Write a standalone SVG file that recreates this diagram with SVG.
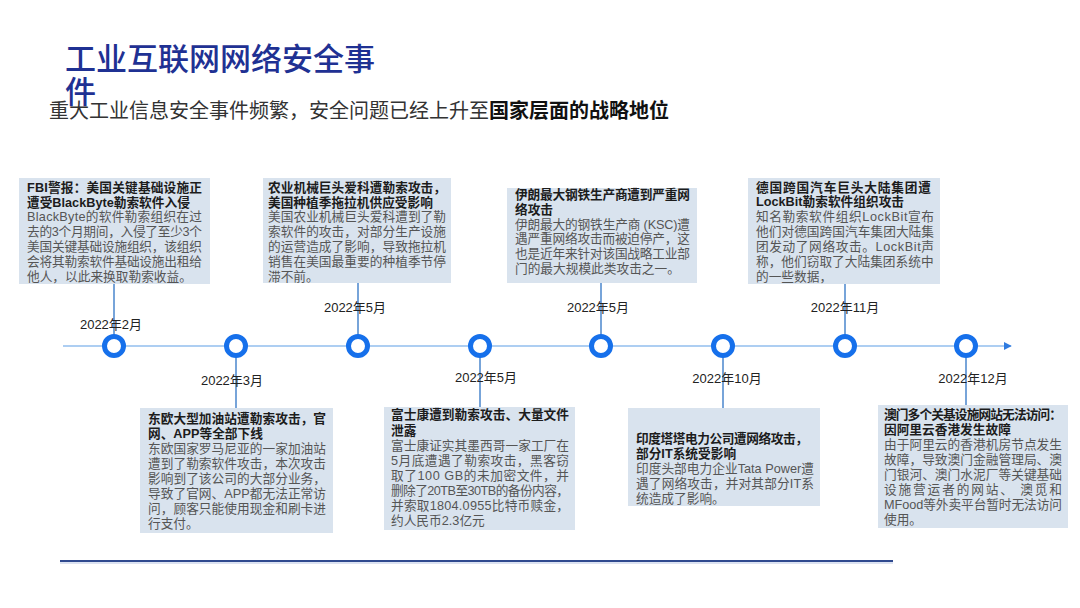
<svg xmlns="http://www.w3.org/2000/svg" width="1080" height="608" viewBox="0 0 1080 608">
<defs>
<style>
.box{fill:#d9e3ee}
.t{font-family:"Liberation Sans","Noto Sans CJK SC",sans-serif;font-size:12.7px;font-weight:bold;fill:#1c1c1c}
.b{font-family:"Liberation Sans","Noto Sans CJK SC",sans-serif;font-size:12.7px;fill:#555}
.d{font-family:"Liberation Sans","Noto Sans CJK SC",sans-serif;font-size:13px;fill:#222;text-anchor:middle}
.c{fill:#fff;stroke:#1670eb;stroke-width:5}
.conn{stroke:#4a86cc;stroke-width:1.5;fill:none}
</style>
<marker id="arr" viewBox="0 0 10 10" refX="9" refY="5" markerWidth="8" markerHeight="8" markerUnits="userSpaceOnUse" orient="auto">
<path d="M0,0 L10,5 L0,10 z" fill="#2f7be0"/>
</marker>
</defs>
<rect width="1080" height="608" fill="#fff"/>
<g id="title">
<text x="65" y="70" font-family="'Noto Sans CJK SC',sans-serif" font-size="31" font-weight="500" fill="#1f3193">工业互联网网络安全事</text>
<text x="65" y="103" font-family="'Noto Sans CJK SC',sans-serif" font-size="31" font-weight="500" fill="#1f3193">件</text>
<text x="49" y="118" font-family="'Noto Sans CJK SC',sans-serif" font-size="20" fill="#333">重大工业信息安全事件频繁，安全问题已经上升至<tspan font-weight="bold" fill="#111">国家层面的战略地位</tspan></text>
</g>
<g id="connectors">
<line x1="63" y1="346" x2="1011" y2="346" stroke="#5d9ee6" stroke-width="1.2" marker-end="url(#arr)"/>
<line class="conn" x1="114" y1="284" x2="114" y2="340"/>
<line class="conn" x1="358" y1="283" x2="358" y2="340"/>
<line class="conn" x1="601" y1="283" x2="601" y2="340"/>
<line class="conn" x1="845" y1="284" x2="845" y2="340"/>
<line class="conn" x1="236" y1="352" x2="236" y2="408"/>
<line class="conn" x1="480" y1="352" x2="480" y2="407"/>
<line class="conn" x1="723" y1="352" x2="723" y2="408"/>
<line class="conn" x1="966" y1="352" x2="966" y2="405"/>
</g>
<g id="markers">
<circle class="c" cx="114" cy="346" r="9.5"/>
<circle class="c" cx="236" cy="346" r="9.5"/>
<circle class="c" cx="358" cy="346" r="9.5"/>
<circle class="c" cx="480" cy="346" r="9.5"/>
<circle class="c" cx="601" cy="346" r="9.5"/>
<circle class="c" cx="723" cy="346" r="9.5"/>
<circle class="c" cx="845" cy="346" r="9.5"/>
<circle class="c" cx="966" cy="346" r="9.5"/>
</g>
<g id="dates">
<text class="d" x="111" y="329">2022年2月</text>
<text class="d" x="232" y="385">2022年3月</text>
<text class="d" x="355" y="312">2022年5月</text>
<text class="d" x="486" y="382">2022年5月</text>
<text class="d" x="598" y="312">2022年5月</text>
<text class="d" x="727" y="383">2022年10月</text>
<text class="d" x="845" y="312">2022年11月</text>
<text class="d" x="973" y="383">2022年12月</text>
</g>
<g id="event-feb">
<rect class="box" x="19" y="178" width="191" height="106"/>
<text class="t" x="27" y="191.5" textLength="175" lengthAdjust="spacing">FBI警报：美国关键基础设施正</text>
<text class="t" x="27" y="206.5">遭受BlackByte勒索软件入侵</text>
<text class="b" x="27" y="221" textLength="175" lengthAdjust="spacing">BlackByte的软件勒索组织在过</text>
<text class="b" x="27" y="236" textLength="175" lengthAdjust="spacing">去的3个月期间，入侵了至少3个</text>
<text class="b" x="27" y="251" textLength="175" lengthAdjust="spacing">美国关键基础设施组织，该组织</text>
<text class="b" x="27" y="266" textLength="175" lengthAdjust="spacing">会将其勒索软件基础设施出租给</text>
<text class="b" x="27" y="281">他人，以此来换取勒索收益。</text>
</g>
<g id="event-may-agco">
<rect class="box" x="263" y="178" width="188" height="105"/>
<text class="t" x="268" y="191.5" textLength="178" lengthAdjust="spacing">农业机械巨头爱科遭勒索攻击，</text>
<text class="t" x="268" y="206.5">美国种植季拖拉机供应受影响</text>
<text class="b" x="268" y="221" textLength="178" lengthAdjust="spacing">美国农业机械巨头爱科遭到了勒</text>
<text class="b" x="268" y="236" textLength="178" lengthAdjust="spacing">索软件的攻击，对部分生产设施</text>
<text class="b" x="268" y="251" textLength="178" lengthAdjust="spacing">的运营造成了影响，导致拖拉机</text>
<text class="b" x="268" y="266" textLength="178" lengthAdjust="spacing">销售在美国最重要的种植季节停</text>
<text class="b" x="268" y="281">滞不前。</text>
</g>
<g id="event-may-ksc">
<rect class="box" x="507" y="188" width="190" height="95"/>
<text class="t" x="515" y="198.5" textLength="175" lengthAdjust="spacing">伊朗最大钢铁生产商遭到严重网</text>
<text class="t" x="515" y="213.5">络攻击</text>
<text class="b" x="515" y="228.5" textLength="175" lengthAdjust="spacing">伊朗最大的钢铁生产商 (KSC)遭</text>
<text class="b" x="515" y="243" textLength="175" lengthAdjust="spacing">遇严重网络攻击而被迫停产，这</text>
<text class="b" x="515" y="258" textLength="175" lengthAdjust="spacing">也是近年来针对该国战略工业部</text>
<text class="b" x="515" y="273">门的最大规模此类攻击之一。</text>
</g>
<g id="event-nov">
<rect class="box" x="748" y="178" width="192" height="106"/>
<text class="t" x="756" y="191.5" textLength="175" lengthAdjust="spacing">德国跨国汽车巨头大陆集团遭</text>
<text class="t" x="756" y="206">LockBit勒索软件组织攻击</text>
<text class="b" x="756" y="221" textLength="178" lengthAdjust="spacing">知名勒索软件组织LockBit宣布</text>
<text class="b" x="756" y="236" textLength="178" lengthAdjust="spacing">他们对德国跨国汽车集团大陆集</text>
<text class="b" x="756" y="251" textLength="178" lengthAdjust="spacing">团发动了网络攻击。LockBit声</text>
<text class="b" x="756" y="266">称，他们窃取了大陆集团系统中</text>
<text class="b" x="756" y="281">的一些数据，</text>
</g>
<g id="event-mar">
<rect class="box" x="140" y="408" width="193" height="125"/>
<text class="t" x="148" y="422.5" textLength="178" lengthAdjust="spacing">东欧大型加油站遭勒索攻击，官</text>
<text class="t" x="148" y="437.5">网、APP等全部下线</text>
<text class="b" x="148" y="452.5" textLength="178" lengthAdjust="spacing">东欧国家罗马尼亚的一家加油站</text>
<text class="b" x="148" y="467.5" textLength="178" lengthAdjust="spacing">遭到了勒索软件攻击，本次攻击</text>
<text class="b" x="148" y="482.5" textLength="178" lengthAdjust="spacing">影响到了该公司的大部分业务，</text>
<text class="b" x="148" y="497.5" textLength="178" lengthAdjust="spacing">导致了官网、APP都无法正常访</text>
<text class="b" x="148" y="512.5" textLength="178" lengthAdjust="spacing">问，顾客只能使用现金和刷卡进</text>
<text class="b" x="148" y="527.5">行支付。</text>
</g>
<g id="event-may-foxconn">
<rect class="box" x="384" y="407" width="191" height="123"/>
<text class="t" x="391" y="419" textLength="178" lengthAdjust="spacing">富士康遭到勒索攻击、大量文件</text>
<text class="t" x="391" y="434.5">泄露</text>
<text class="b" x="391" y="449.5" textLength="178" lengthAdjust="spacing">富士康证实其墨西哥一家工厂在</text>
<text class="b" x="391" y="464.5" textLength="178" lengthAdjust="spacing">5月底遭遇了勒索攻击，黑客窃</text>
<text class="b" x="391" y="479.5" textLength="178" lengthAdjust="spacing">取了100  GB的未加密文件，并</text>
<text class="b" x="391" y="494.5" textLength="178" lengthAdjust="spacing">删除了20TB至30TB的备份内容，</text>
<text class="b" x="391" y="509.5" textLength="178" lengthAdjust="spacing">并索取1804.0955比特币赎金，</text>
<text class="b" x="391" y="524.5">约人民币2.3亿元</text>
</g>
<g id="event-oct">
<rect class="box" x="628" y="408" width="192" height="98"/>
<text class="t" x="636" y="442.5" textLength="172" lengthAdjust="spacing">印度塔塔电力公司遭网络攻击，</text>
<text class="t" x="636" y="457.5">部分IT系统受影响</text>
<text class="b" x="636" y="473" textLength="178" lengthAdjust="spacing">印度头部电力企业Tata Power遭</text>
<text class="b" x="636" y="488" textLength="178" lengthAdjust="spacing">遇了网络攻击，并对其部分IT系</text>
<text class="b" x="636" y="502.5">统造成了影响。</text>
</g>
<g id="event-dec">
<rect class="box" x="878" y="405" width="190" height="123"/>
<text class="t" x="884" y="418.5" textLength="178" lengthAdjust="spacing">澳门多个关基设施网站无法访问：</text>
<text class="t" x="884" y="434">因阿里云香港发生故障</text>
<text class="b" x="884" y="448.5" textLength="178" lengthAdjust="spacing">由于阿里云的香港机房节点发生</text>
<text class="b" x="884" y="463.5" textLength="178" lengthAdjust="spacing">故障，导致澳门金融管理局、澳</text>
<text class="b" x="884" y="478.5" textLength="178" lengthAdjust="spacing">门银河、澳门水泥厂等关键基础</text>
<text class="b" x="884" y="493.5" textLength="178" lengthAdjust="spacing">设施营运者的网站、 澳觅和</text>
<text class="b" x="884" y="508.5" textLength="178" lengthAdjust="spacing">MFood等外卖平台暂时无法访问</text>
<text class="b" x="884" y="523.5">使用。</text>
</g>
<g id="footer-rule">
<line x1="60" y1="561" x2="893" y2="561" stroke="#2f4a8f" stroke-width="2"/>
<line x1="60" y1="563" x2="893" y2="563" stroke="#b9c6e4" stroke-width="1"/>
</g>
</svg>
